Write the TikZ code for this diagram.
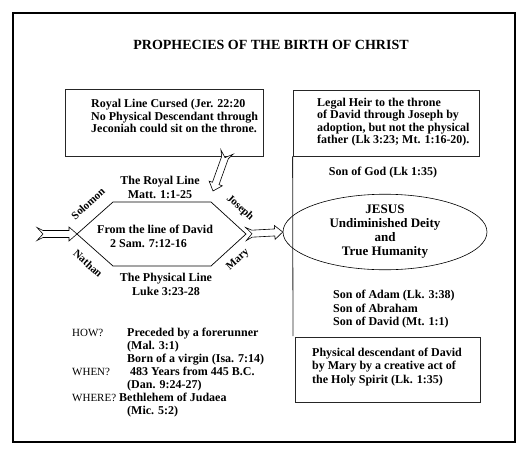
\documentclass[tikz,border=0pt]{standalone}
\usepackage{fontspec}
\setmainfont{Liberation Serif}
\usetikzlibrary{calc,shapes.geometric}

\tikzset{
 box/.style={draw=black!85, line width=0.8pt, inner sep=0pt},
 txt/.style={font=\fontsize{12}{13.5}\selectfont\bfseries, inner sep=0pt, align=left},
 qlbl/.style={font=\fontsize{11}{12}\selectfont, inner sep=0pt},
 lbl/.style={font=\fontsize{11}{12}\selectfont\bfseries, inner sep=0pt},
 hollow/.style={draw=black, line width=0.6pt, fill=white, line join=miter},
 hexline/.style={draw=black, line width=0.7pt},
}

\newcommand\hollowarrow[2]{%
 \draw[hollow] ($(#1)!6.5pt!90:(#2)$) -- ($(#1)!6pt!(#2)!3.5pt!90:(#2)$)
  -- ($(#2)!8pt!(#1)!3.5pt!-90:(#1)$) -- ($(#2)!8pt!(#1)!7pt!-90:(#1)$)
  -- (#2) -- ($(#2)!8pt!(#1)!7pt!90:(#1)$) -- ($(#2)!8pt!(#1)!3.5pt!90:(#1)$)
  -- ($(#1)!6pt!(#2)!3.5pt!-90:(#2)$) -- ($(#1)!6.5pt!-90:(#2)$)
  -- ($(#1)!6pt!(#2)$) -- cycle;}

\begin{document}
\begin{tikzpicture}[x=1pt,y=-1pt]
\useasboundingbox (0,0) rectangle (528,456);
\fill[white] (0,0) rectangle (528,456);
\draw[line width=2.5pt] (13,13) rectangle (515,442);

\node[txt, font=\fontsize{14}{16}\selectfont\bfseries] (title) at (271,45) {PROPHECIES OF THE BIRTH OF CHRIST};

% top boxes
\node[box, minimum width=198pt, minimum height=67pt] (cursed) at (164,122.5) {};
\node[txt, font=\fontsize{12}{12.5}\selectfont\bfseries, anchor=west] (cursedtxt) at (91,116) {Royal Line Cursed (Jer. 22:20\\No Physical Descendant through\\Jeconiah could sit on the throne.};

\node[box, minimum width=186pt, minimum height=66pt] (legal) at (386,123) {};
\node[txt, font=\fontsize{12}{12.5}\selectfont\bfseries, anchor=west] (legaltxt) at (317,122) {Legal Heir to the throne\\of David through Joseph by\\adoption, but not the physical\\father (Lk 3:23; Mt. 1:16-20).};

\coordinate (mleft) at (293,336);
\draw[box] (legal.south west) -- (mleft);

\node[txt] (sog) at (383,173) {Son of God (Lk 1:35)};
\node[draw, line width=0.6pt, ellipse, minimum width=204pt, minimum height=68pt, inner sep=0pt, align=center, font=\fontsize{13}{14}\selectfont\bfseries] (jesus) at (385,232) {JESUS\\Undiminished Deity\\and\\True Humanity};
\node[txt, anchor=west] (adam) at (333,309.5) {Son of Adam (Lk. 3:38)\\Son of Abraham\\Son of David (Mt. 1:1)};

\node[box, minimum width=185pt, minimum height=65pt] (phys) at (387.5,369.5) {};
\node[txt, anchor=west] (phystxt) at (312,367) {Physical descendant of David\\by Mary by a creative act of\\the Holy Spirit (Lk. 1:35)};

% hexagon
\coordinate (hL) at (77,234);
\coordinate (hTL) at (113,202);
\coordinate (hTR) at (211,202);
\coordinate (hR) at (246,234);
\coordinate (hBR) at (211,266);
\coordinate (hBL) at (113,266);
\draw[hexline] (hL) -- (hTL) -- (hTR) -- (hR) -- (hBR) -- (hBL) -- cycle;

\node[txt, align=center, font=\fontsize{12}{14}\selectfont\bfseries] (royal) at (160,187) {The Royal Line\\Matt. 1:1-25};
\node[txt, font=\fontsize{12}{13.5}\selectfont\bfseries, anchor=west] (david) at (97,236.5) {From the line of David\\\hspace*{13pt}2 Sam. 7:12-16};
\node[txt, align=center, font=\fontsize{12}{14}\selectfont\bfseries] (physline) at (166,284) {The Physical Line\\Luke 3:23-28};

\node[lbl, rotate=42] (solomon) at (88,203.5) {Solomon};
\node[lbl, rotate=-42] (nathan) at (88,263.5) {Nathan};
\node[lbl, rotate=-42] (joseph) at (240,208) {Joseph};
\node[lbl, rotate=42] (mary) at (238,260) {Mary};

% arrows
\coordinate (src) at (37,234);
\hollowarrow{src}{hL}
\hollowarrow{hR}{jesus.west}
\coordinate (d1) at (227,152);
\coordinate (d2) at (213,191);
\hollowarrow{d1}{d2}

% bottom-left text
\node[qlbl, anchor=base west] (how) at (72,336) {HOW?};
\node[txt, anchor=base west] (how1) at (127,336) {Preceded by a forerunner};
\node[txt, anchor=base west] (how2) at (127,349) {(Mal. 3:1)};
\node[txt, anchor=base west] (how3) at (127,362) {Born of a virgin (Isa. 7:14)};
\node[qlbl, anchor=base west] (when) at (72,375) {WHEN?};
\node[txt, anchor=base west] (when1) at (130,375) {483 Years from 445 B.C.};
\node[txt, anchor=base west] (when2) at (127,388) {(Dan. 9:24-27)};
\node[qlbl, anchor=base west] (where) at (72,401) {WHERE?};
\node[txt, anchor=base west] (where1) at (119,401) {Bethlehem of Judaea};
\node[txt, anchor=base west] (where2) at (127,414) {(Mic. 5:2)};
\end{tikzpicture}
\end{document}
